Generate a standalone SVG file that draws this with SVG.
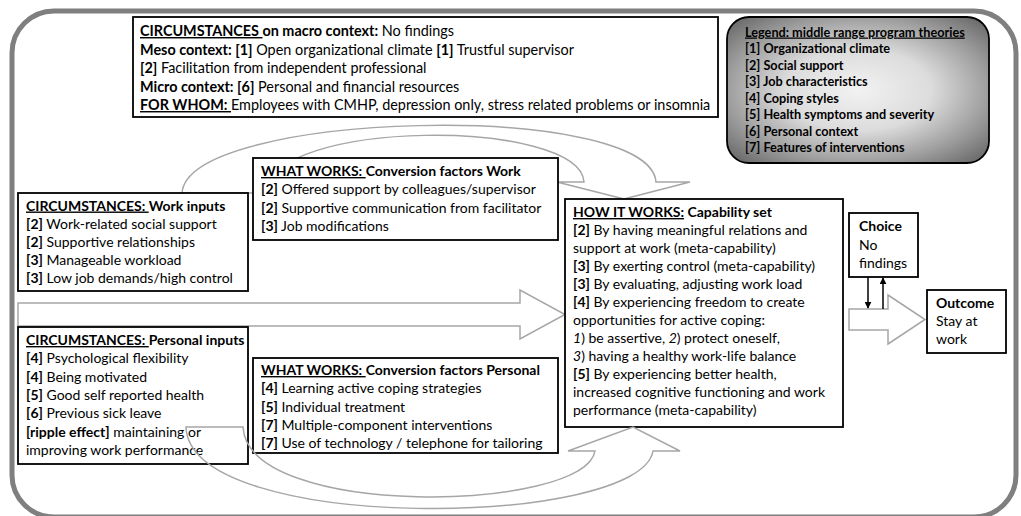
<svg xmlns="http://www.w3.org/2000/svg" width="1021" height="516" viewBox="0 0 1021 516">
  <defs>
    <radialGradient id="legendFill" cx="0.5" cy="0.5" r="0.7">
      <stop offset="0" stop-color="#f2f2f2"/>
      <stop offset="0.4" stop-color="#dcdcdc"/>
      <stop offset="0.72" stop-color="#9c9c9c"/>
      <stop offset="1" stop-color="#606060"/>
    </radialGradient>
    <marker id="tip" viewBox="0 0 10 10" refX="9" refY="5" markerWidth="7" markerHeight="7" markerUnits="userSpaceOnUse" orient="auto">
      <path d="M0,0 L10,5 L0,10 Z" fill="#000"/>
    </marker>
    <style>
      .box { fill: #fff; stroke: #000; stroke-width: 1.8; }
      .t { font-family: Lato, "Liberation Sans", Arial, sans-serif; font-size: 14px; fill: #000; }
      .tw { font-size: 14.4px; }
      .lg { font-family: Lato, "Liberation Sans", Arial, sans-serif; font-size: 12.7px; font-weight: bold; fill: #000; }
      .b { font-weight: bold; }
      .i { font-style: italic; }
      .u { text-decoration: underline; }
      .blk { fill: #fff; stroke: #a6a6a6; stroke-width: 1.5; stroke-linejoin: miter; }
      .blkline { fill: none; stroke: #a6a6a6; stroke-width: 1.5; }
      .link { stroke: #000; stroke-width: 1.5; fill: none; }
    </style>
  </defs>

  <rect width="1021" height="516" fill="#fff"/>

  <!-- outer frame -->
  <rect x="12" y="11" width="1004" height="506" rx="42" ry="42" fill="none" stroke="#7f7f7f" stroke-width="5"/>

  <g id="connectors">
    <!-- curved arrow from work inputs over to capability set -->
    <path class="blk" d="M182,193 C188,110 650,100 656,182 L690,182 L624,199 L557,182 L584,182 C580,118 270,118 265,193 Z"/>
    <!-- straight arrow: inputs to capability set -->
    <path class="blk" d="M18,303 L520,303 L520,290 L565,314.5 L520,339 L520,326 L18,326 Z"/>
    <!-- capability set to outcome -->
    <path class="blk" d="M849,309 L888,309 L888,295 L925,319.5 L888,344 L888,330 L849,330 Z"/>
  </g>

  <g id="macro-context">
    <rect class="box" x="133" y="17" width="585" height="100"/>
    <text class="t tw" x="140" y="36"><tspan class="b u">CIRCUMSTANCES </tspan><tspan class="b">on macro context:</tspan> No findings</text>
    <text class="t tw" x="140" y="54.5"><tspan class="b">Meso context: [1]</tspan> Open organizational climate <tspan class="b">[1]</tspan> Trustful supervisor</text>
    <text class="t tw" x="140" y="73"><tspan class="b">[2]</tspan> Facilitation from independent professional</text>
    <text class="t tw" x="140" y="91.5"><tspan class="b">Micro context: [6]</tspan> Personal and financial resources</text>
    <text class="t tw" x="140" y="110"><tspan class="b u">FOR WHOM: </tspan>Employees with CMHP, depression only, stress related problems or insomnia</text>
  </g>

  <g id="legend">
    <rect x="727" y="17" width="262" height="146" rx="22" ry="22" fill="url(#legendFill)" stroke="#000" stroke-width="1.8"/>
    <text class="lg u" x="745" y="36.5">Legend: middle range program theories</text>
    <text class="lg" x="745" y="53">[1] Organizational climate</text>
    <text class="lg" x="745" y="69.5">[2] Social support</text>
    <text class="lg" x="745" y="86">[3] Job characteristics</text>
    <text class="lg" x="745" y="102.5">[4] Coping styles</text>
    <text class="lg" x="745" y="119">[5] Health symptoms and severity</text>
    <text class="lg" x="745" y="135.5">[6] Personal context</text>
    <text class="lg" x="745" y="152">[7] Features of interventions</text>
  </g>

  <g id="conversion-work">
    <rect class="box" x="253" y="158" width="305" height="82"/>
    <text class="t" x="261" y="176"><tspan class="b u">WHAT WORKS: </tspan><tspan class="b">Conversion factors Work</tspan></text>
    <text class="t" x="261" y="194"><tspan class="b">[2]</tspan> Offered support by colleagues/supervisor</text>
    <text class="t" x="261" y="212.5"><tspan class="b">[2]</tspan> Supportive communication from facilitator</text>
    <text class="t" x="261" y="231"><tspan class="b">[3]</tspan> Job modifications</text>
  </g>

  <g id="work-inputs">
    <rect class="box" x="18" y="193" width="230" height="98"/>
    <text class="t" x="26" y="210.5"><tspan class="b u">CIRCUMSTANCES: </tspan><tspan class="b">Work inputs</tspan></text>
    <text class="t" x="26" y="229"><tspan class="b">[2]</tspan> Work-related social support</text>
    <text class="t" x="26" y="247"><tspan class="b">[2]</tspan> Supportive relationships</text>
    <text class="t" x="26" y="265"><tspan class="b">[3]</tspan> Manageable workload</text>
    <text class="t" x="26" y="283"><tspan class="b">[3]</tspan> Low job demands/high control</text>
  </g>

  <g id="capability-set">
    <rect class="box" x="565" y="199" width="278" height="228"/>
    <text class="t" x="573" y="217"><tspan class="b u">HOW IT WORKS:</tspan><tspan class="b"> Capability set</tspan></text>
    <text class="t" x="573" y="235"><tspan class="b">[2]</tspan> By having meaningful relations and</text>
    <text class="t" x="573" y="253">support at work (meta-capability)</text>
    <text class="t" x="573" y="271"><tspan class="b">[3]</tspan> By exerting control (meta-capability)</text>
    <text class="t" x="573" y="289"><tspan class="b">[3]</tspan> By evaluating, adjusting work load</text>
    <text class="t" x="573" y="307"><tspan class="b">[4]</tspan> By experiencing freedom to create</text>
    <text class="t" x="573" y="325">opportunities for active coping:</text>
    <text class="t" x="573" y="343"><tspan class="i">1</tspan>) be assertive, <tspan class="i">2</tspan>) protect oneself,</text>
    <text class="t" x="573" y="361"><tspan class="i">3</tspan>) having a healthy work-life balance</text>
    <text class="t" x="573" y="379"><tspan class="b">[5]</tspan> By experiencing better health,</text>
    <text class="t" x="573" y="397">increased cognitive functioning and work</text>
    <text class="t" x="573" y="415">performance (meta-capability)</text>
  </g>

  <g id="choice">
    <rect class="box" x="849" y="213" width="69" height="64"/>
    <text class="t" x="859" y="231" font-weight="bold">Choice</text>
    <text class="t" x="859" y="250">No</text>
    <text class="t" x="859" y="268">findings</text>
  </g>

  <g id="outcome">
    <rect class="box" x="927" y="290" width="79" height="63"/>
    <text class="t" x="936" y="308" font-weight="bold">Outcome</text>
    <text class="t" x="936" y="326">Stay at</text>
    <text class="t" x="936" y="344">work</text>
  </g>

  <g id="personal-inputs">
    <rect class="box" x="18" y="327" width="230" height="137"/>
    <text class="t" x="26" y="345"><tspan class="b u">CIRCUMSTANCES: </tspan><tspan class="b">Personal inputs</tspan></text>
    <text class="t" x="26" y="363.3"><tspan class="b">[4]</tspan> Psychological flexibility</text>
    <text class="t" x="26" y="381.6"><tspan class="b">[4]</tspan> Being motivated</text>
    <text class="t" x="26" y="400"><tspan class="b">[5]</tspan> Good self reported health</text>
    <text class="t" x="26" y="418.3"><tspan class="b">[6]</tspan> Previous sick leave</text>
    <text class="t" x="26" y="436.6"><tspan class="b">[ripple effect]</tspan> maintaining or</text>
    <text class="t" x="26" y="455">improving work performance</text>
  </g>

  <g id="conversion-personal">
    <rect class="box" x="253" y="358" width="305" height="95"/>
    <text class="t" x="261" y="375"><tspan class="b u">WHAT WORKS: </tspan><tspan class="b">Conversion factors Personal</tspan></text>
    <text class="t" x="261" y="393.3"><tspan class="b">[4]</tspan> Learning active coping strategies</text>
    <text class="t" x="261" y="411.6"><tspan class="b">[5]</tspan> Individual treatment</text>
    <text class="t" x="261" y="430"><tspan class="b">[7]</tspan> Multiple-component interventions</text>
    <text class="t" x="261" y="448.3"><tspan class="b">[7]</tspan> Use of technology / telephone for tailoring</text>
  </g>

  <g id="connectors-front">
    <!-- curved arrow from personal inputs under to capability set -->
    <path class="blkline" d="M186,427 C190,535 640,528 653,451 L680,451 L633,427 L568,451 L595,451 C585,512 248,520 243,427 Z"/>
    <!-- choice feedback links -->
    <line class="link" x1="868" y1="277" x2="868" y2="308" marker-end="url(#tip)"/>
    <line class="link" x1="883" y1="309" x2="883" y2="278" marker-end="url(#tip)"/>
  </g>
</svg>
